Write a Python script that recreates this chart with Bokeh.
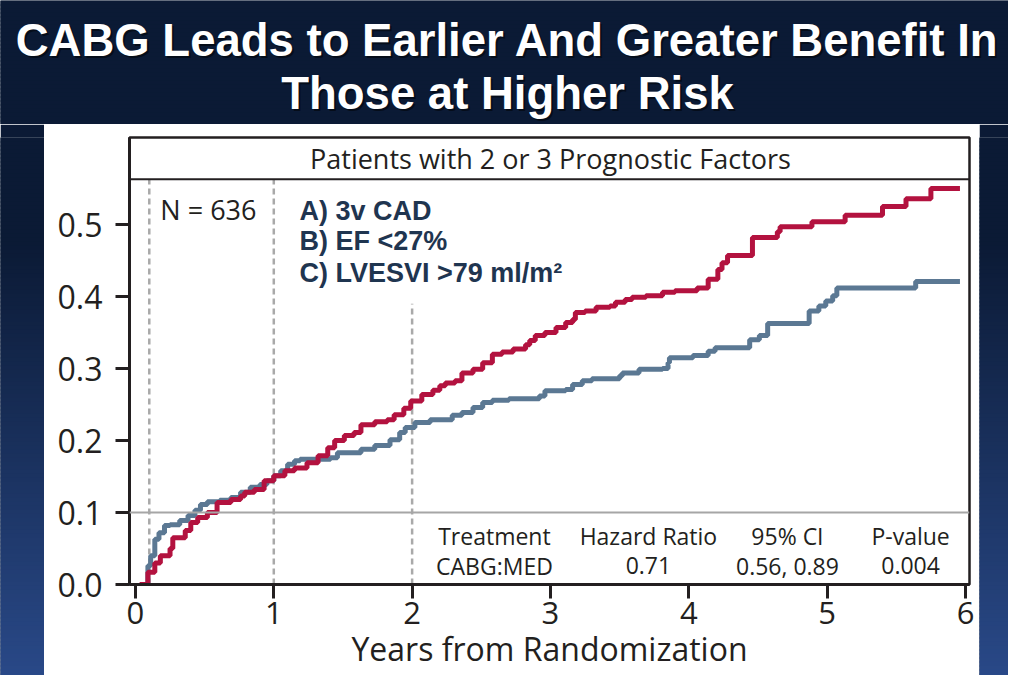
from bokeh.plotting import figure
from bokeh.layouts import column, row
from bokeh.models import (Label, Span, FixedTicker, Range1d, NumeralTickFormatter,
                          ColumnDataSource)
from bokeh.core.properties import value
from bokeh.embed import file_html
from bokeh.resources import INLINE

# ---------------- data ----------------
title_lines = ["CABG Leads to Earlier And Greater Benefit In", "Those at Higher Risk"]
panel_title = "Patients with 2 or 3 Prognostic Factors"
n_label = "N = 636"
factors = ["A) 3v CAD", "B) EF <27%", "C) LVESVI >79 ml/m\u00b2"]
table_header = ["Treatment", "Hazard Ratio", "95% CI", "P-value"]
table_row = ["CABG:MED", "0.71", "0.56, 0.89", "0.004"]
x_ticks = [0, 1, 2, 3, 4, 5, 6]
y_ticks = [0.0, 0.1, 0.2, 0.3, 0.4, 0.5]
x_label = "Years from Randomization"
landmark_x = [0.1, 1.0, 2.0]
landmark_top = [0.563, 0.563, 0.39]
ref_y = 0.1

# MED arm (red): cumulative event rate, value holds from each time onwards
med_t = [0.03, 0.09, 0.14, 0.18, 0.25, 0.27, 0.36, 0.40, 0.45, 0.52, 0.59, 0.69,
         0.76, 0.79, 0.86, 0.93, 1.00, 1.08, 1.15, 1.24, 1.32, 1.39, 1.44, 1.51,
         1.58, 1.63, 1.73, 1.82, 1.87, 1.94, 1.99, 2.07, 2.15, 2.20, 2.24, 2.31,
         2.36, 2.44, 2.51, 2.58, 2.65, 2.73, 2.82, 2.85, 2.89, 2.96, 3.04, 3.11,
         3.16, 3.18, 3.25, 3.33, 3.43, 3.47, 3.54, 3.59, 3.69, 3.81, 3.90, 4.06,
         4.14, 4.21, 4.24, 4.28, 4.46, 4.64, 4.66, 4.89, 5.13, 5.40, 5.57, 5.75, 5.96]
med_v = [0.0, 0.017, 0.030, 0.040, 0.050, 0.065, 0.075, 0.086, 0.093, 0.100, 0.114, 0.118,
         0.123, 0.128, 0.132, 0.144, 0.151, 0.158, 0.162, 0.169, 0.179, 0.190, 0.200, 0.207,
         0.211, 0.222, 0.226, 0.229, 0.236, 0.245, 0.255, 0.264, 0.270, 0.276, 0.280, 0.283,
         0.294, 0.299, 0.308, 0.320, 0.323, 0.327, 0.333, 0.339, 0.346, 0.350, 0.357, 0.364,
         0.368, 0.378, 0.380, 0.385, 0.387, 0.392, 0.396, 0.399, 0.401, 0.406, 0.408, 0.412,
         0.424, 0.4375, 0.447, 0.457, 0.482, 0.490, 0.497, 0.504, 0.513, 0.525, 0.536, 0.550, 0.550]

# CABG arm (blue-grey)
cabg_t = [0.05, 0.09, 0.11, 0.14, 0.17, 0.21, 0.25, 0.32, 0.38, 0.43, 0.47, 0.52,
          0.61, 0.69, 0.76, 0.83, 0.90, 0.95, 1.00, 1.05, 1.10, 1.15, 1.19, 1.41,
          1.46, 1.63, 1.73, 1.84, 1.91, 1.95, 2.02, 2.13, 2.29, 2.36, 2.44, 2.51,
          2.58, 2.70, 2.92, 2.96, 3.11, 3.16, 3.23, 3.30, 3.50, 3.52, 3.64, 3.81,
          3.85, 3.86, 4.03, 4.14, 4.19, 4.44, 4.51, 4.57, 4.87, 4.94, 4.99, 5.04,
          5.07, 5.64, 5.96]
cabg_v = [0.0, 0.026, 0.040, 0.063, 0.072, 0.082, 0.083, 0.089, 0.096, 0.103, 0.111, 0.115,
          0.117, 0.121, 0.128, 0.135, 0.139, 0.144, 0.151, 0.158, 0.167, 0.172, 0.174, 0.176,
          0.183, 0.188, 0.193, 0.201, 0.211, 0.218, 0.225, 0.229, 0.235, 0.239, 0.246, 0.253,
          0.256, 0.258, 0.262, 0.269, 0.271, 0.278, 0.283, 0.286, 0.290, 0.294, 0.299, 0.300,
          0.308, 0.315, 0.318, 0.324, 0.329, 0.340, 0.346, 0.3625, 0.380, 0.387, 0.394, 0.401,
          0.412, 0.421, 0.421]

# ---------------- styling ----------------
NAVY = "#0b1a35"
RED = "#b3123f"
BLUE = "#5b7893"
INK = "#231f20"
FONT = "Open Sans"
TOP_C = (11, 26, 53)
BOT_C = (42, 74, 138)


def grad_color(y):
    f = min(1.0, max(0.0, (y - 230.0) / (675.0 - 230.0)))
    c = tuple(int(round(TOP_C[k] + (BOT_C[k] - TOP_C[k]) * f)) for k in range(3))
    return "#%02x%02x%02x" % c


def backdrop(w, h, y_top):
    """A plain piece of the slide background, drawn in canvas pixels."""
    f = figure(frame_width=w, frame_height=h, x_range=Range1d(0, w),
               y_range=Range1d(y_top + h, y_top),
               x_axis_location=None, y_axis_location=None, min_border=0, title=None,
               output_backend="svg", toolbar_location=None, outline_line_color=None,
               background_fill_color=grad_color(y_top), border_fill_color=grad_color(y_top))
    f.grid.visible = False
    step = 4
    tops = list(range(y_top, y_top + h, step))
    bots = [min(t + step + 1, y_top + h) for t in tops]
    cols = [grad_color(t + step / 2) for t in tops]
    f.quad(left=-1, right=w + 1, top=tops, bottom=bots, fill_color=cols, line_color=None)
    return f


# ---- title band ----
top = backdrop(1008, 124, 0)
top.text(x=[509, 509], y=[42, 95], text=title_lines, text_align="center",
         text_baseline="alphabetic", text_font=value("Liberation Sans"),
         text_font_style="bold", text_font_size="45.5px", text_color="black", text_alpha=0.5)
top.text(x=[507, 507], y=[40, 93], text=title_lines, text_align="center",
         text_baseline="alphabetic", text_font=value("Liberation Sans"),
         text_font_style="bold", text_font_size="45.5px", text_color="white")

# ---- main chart ----
fig = figure(frame_width=840, frame_height=447, min_border_left=85, min_border_right=10,
             min_border_top=13, min_border_bottom=91, title=None,
             x_range=Range1d(-0.043, 6.029), y_range=Range1d(0, 0.621),
             output_backend="svg", toolbar_location=None,
             background_fill_color="white", border_fill_color="white")
fig.grid.visible = False
fig.outline_line_color = INK
fig.outline_line_width = 2.5

fig.xaxis.ticker = FixedTicker(ticks=x_ticks)
fig.yaxis.ticker = FixedTicker(ticks=y_ticks)
fig.yaxis.formatter = NumeralTickFormatter(format="0.0")
for ax in (fig.xaxis[0], fig.yaxis[0]):
    ax.axis_line_color = INK
    ax.axis_line_width = 3
    ax.major_tick_line_color = INK
    ax.major_tick_line_width = 3
    ax.major_tick_out = 14
    ax.major_tick_in = 0
    ax.minor_tick_line_color = None
    ax.major_label_text_font = FONT
    ax.major_label_text_color = INK
fig.xaxis.major_label_text_font_size = "31px"
fig.xaxis.major_label_standoff = 3
fig.xaxis.axis_label = x_label
fig.xaxis.axis_label_text_font = FONT
fig.xaxis.axis_label_text_font_size = "32px"
fig.xaxis.axis_label_text_font_style = "normal"
fig.xaxis.axis_label_text_color = INK
fig.xaxis.axis_label_standoff = 0
fig.yaxis.major_label_text_font_size = "32px"
fig.yaxis.major_label_standoff = 13

# header band
fig.add_layout(Span(location=0.563, dimension="width", line_color=INK, line_width=2))
fig.add_layout(Label(x=3.0, y=0.592, text=panel_title, text_align="center",
                     text_baseline="middle", text_font=FONT, text_font_size="27px",
                     text_color=INK))

# landmark dashed lines and reference line
fig.segment(x0=landmark_x, y0=[0] * len(landmark_x), x1=landmark_x, y1=landmark_top,
            line_color="#a9a9a9", line_width=2.5, line_dash="6 4")
fig.add_layout(Span(location=ref_y, dimension="width", line_color="#a6a6a6", line_width=2))

# curves
src_med = ColumnDataSource(dict(t=med_t, v=med_v))
src_cabg = ColumnDataSource(dict(t=cabg_t, v=cabg_v))
fig.step("t", "v", source=src_cabg, mode="after", line_color=BLUE, line_width=5)
fig.step("t", "v", source=src_med, mode="after", line_color=RED, line_width=5)

# annotations
fig.add_layout(Label(x=0.18, y=0.521, text=n_label, text_align="left", text_baseline="middle",
                     text_font=FONT, text_font_size="27px", text_color=INK))
for f_txt, fy in zip(factors, [0.519, 0.477, 0.433]):
    fig.add_layout(Label(x=1.186, y=fy, text=f_txt, text_align="left",
                         text_baseline="middle", text_font="Liberation Sans",
                         text_font_style="bold", text_font_size="27px", text_color="#1f3550"))
col_x = [2.595, 3.708, 4.713, 5.603]
for cx, h, r in zip(col_x, table_header, table_row):
    fig.add_layout(Label(x=cx, y=0.0667, text=h, text_align="center", text_baseline="middle",
                         text_font=FONT, text_font_size="23px", text_color=INK))
    fig.add_layout(Label(x=cx, y=0.026, text=r, text_align="center", text_baseline="middle",
                         text_font=FONT, text_font_size="23px", text_color=INK))

left = backdrop(44, 551, 124)
right = backdrop(29, 551, 124)

p = column(top, row(left, fig, right))

open("out.html", "w").write(file_html(p, INLINE))
